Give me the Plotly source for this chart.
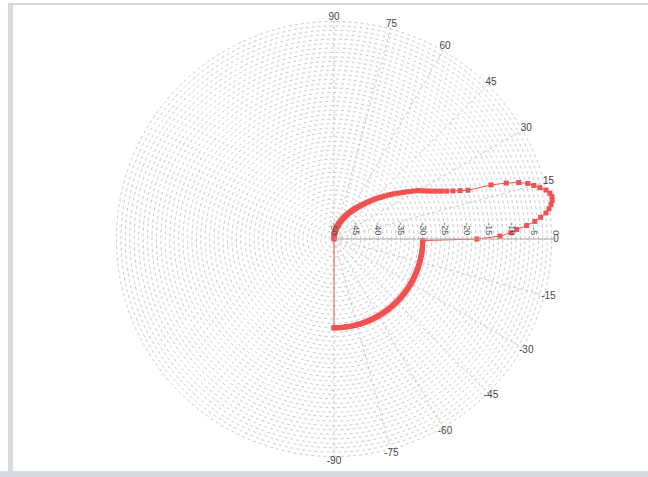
import plotly.graph_objects as go

# Beam pattern: gain in dB at each angle (degrees), -90 .. 90
angles = list(range(-90, 91))

gain_neg = [
    -30, -30, -30, -30, -30, -30, -30, -30, -30, -30,
    -30, -30, -30, -30, -30, -30, -30, -30, -30, -30,
    -30, -30, -30, -30, -30, -30, -30, -30, -30, -30,
    -30, -30, -30, -30, -30, -30, -30, -30, -30, -30,
    -30, -30, -30, -30, -30, -30, -30, -30, -30, -30,
    -30, -30, -30, -30, -30, -30, -30, -30, -30, -30,
    -30, -30, -30, -30, -30, -30, -30, -30, -30, -30,
    -30, -30, -30, -30, -30, -30, -30, -30, -30, -30,
    -30, -30, -30, -30, -30, -30, -30, -30, -30, -30,
]  # -90 .. -1

gain_lobe = [
    -17.8, -12.6, -10.1, -8.8, -6.5, -4.6, -3.2, -1.9, -1.1, -0.5,
    -0.1, 0.0, -0.3, -1.0, -2.2, -3.4, -4.6, -6.5, -9.2, -12.6,
    -17.9,
]  # 0 .. 20

gain_tail = [
    -19.6, -21.1, -22.4, -23.5, -24.5, -25.4, -26.2, -26.9, -27.6,
    -28.2, -29.0, -29.8, -30.5, -31.2, -31.9, -32.5, -33.1, -33.7, -34.3,
    -34.9, -35.5, -36.0, -36.5, -37.0, -37.5, -38.0, -38.5, -38.9, -39.4,
    -39.8, -40.2, -40.6, -40.9, -41.3, -41.6, -41.9, -42.3, -42.6, -42.9,
    -43.2, -43.5, -43.8, -44.1, -44.4, -44.6, -44.9, -45.1, -45.4, -45.6,
    -45.9, -46.1, -46.3, -46.6, -46.8, -47.0, -47.2, -47.4, -47.6, -47.8,
    -48.0, -48.2, -48.4, -48.6, -48.8, -49.0, -49.2, -49.4, -49.6, -49.8,
    -50.0,
]  # 21 .. 90

gain = gain_neg + gain_lobe + gain_tail

angle_ticks = [90, 75, 60, 45, 30, 15, 0, -15, -30, -45, -60, -75, -90]
angle_labels = [str(a) for a in angle_ticks]
radial_ticks = list(range(-50, 1))
radial_labels = [str(v) if v % 5 == 0 else "" for v in radial_ticks]

R_MIN, R_MAX = -50, 0

RED = "#f05252"
GRID = "#c8c8c8"
FRAME = "#d6d9df"

# close the contour back to the first sample
theta_closed = angles + [angles[0]]
r_closed = gain + [gain[0]]

fig = go.Figure()
fig.add_trace(go.Scatterpolar(
    theta=theta_closed,
    r=r_closed,
    mode="lines+markers",
    line=dict(color=RED, width=1),
    marker=dict(symbol="square", size=5, color=RED),
    showlegend=False,
    hoverinfo="skip",
))

# angle labels sit on the outer ring
fig.add_trace(go.Scatterpolar(
    theta=angle_ticks,
    r=[R_MAX] * len(angle_ticks),
    mode="text",
    text=angle_labels,
    textposition="middle center",
    textfont=dict(size=10, color="#444"),
    cliponaxis=False,
    showlegend=False,
    hoverinfo="skip",
))

W, H = 648, 477
cx, cy, rad = 334, 239, 222

fig.update_layout(
    width=W,
    height=H,
    margin=dict(l=0, r=0, t=0, b=0),
    paper_bgcolor="white",
    font=dict(family="Arial, Liberation Sans, sans-serif", size=10, color="#444"),
    polar=dict(
        domain=dict(
            x=[(cx - rad) / W, (cx + rad) / W],
            y=[1 - (cy + rad) / H, 1 - (cy - rad) / H],
        ),
        bgcolor="white",
        radialaxis=dict(
            range=[R_MIN, R_MAX],
            angle=0,
            side="counterclockwise",
            tickangle=90,
            tickvals=radial_ticks,
            ticktext=radial_labels,
            tickfont=dict(size=9, color="#555"),
            showline=True,
            linecolor="#b0b0b0",
            linewidth=1,
            ticks="",
            showgrid=True,
            gridcolor=GRID,
            griddash="dot",
            gridwidth=1,
        ),
        angularaxis=dict(
            rotation=0,
            direction="counterclockwise",
            tickmode="array",
            tickvals=[a % 360 for a in angle_ticks],
            showticklabels=False,
            showline=False,
            ticks="",
            showgrid=True,
            gridcolor=GRID,
            griddash="dot",
            gridwidth=1,
        ),
    ),
    shapes=[
        dict(type="rect", xref="paper", yref="paper", layer="above",
             x0=8 / W, x1=13 / W, y0=1 - 471 / H, y1=1 - 3 / H,
             fillcolor=FRAME, line=dict(width=0)),
        dict(type="rect", xref="paper", yref="paper", layer="above",
             x0=8 / W, x1=1, y0=1 - 5 / H, y1=1 - 3 / H,
             fillcolor=FRAME, line=dict(width=0)),
        dict(type="rect", xref="paper", yref="paper", layer="above",
             x0=0, x1=1, y0=0, y1=1 - 471 / H,
             fillcolor=FRAME, line=dict(width=0)),
    ],
)

fig.write_html("out.html")
